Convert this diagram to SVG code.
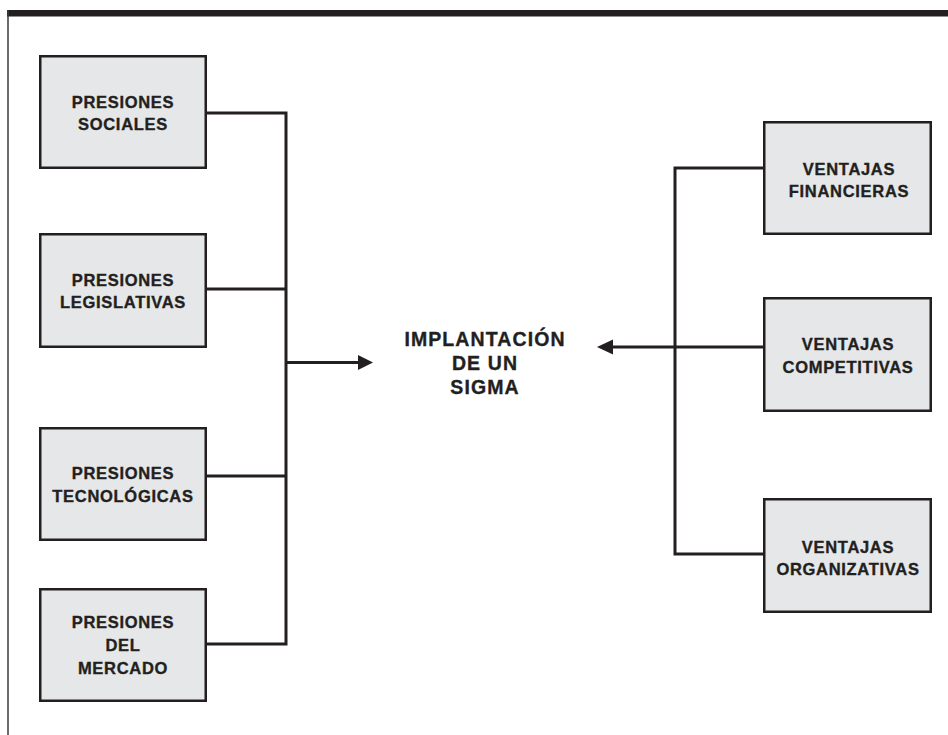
<svg xmlns="http://www.w3.org/2000/svg" width="948" height="735" viewBox="0 0 948 735">
<style>
.box{fill:#e6e7e8;stroke:#231f20;stroke-width:2.5}
.t{font-family:"Liberation Sans",Arial,sans-serif;font-weight:bold;font-size:16.5px;letter-spacing:0.7px;fill:#231f20;stroke:#231f20;stroke-width:0.35;text-anchor:middle}
.c{font-size:19.5px;letter-spacing:1.1px}
.ln{fill:none;stroke:#231f20;stroke-width:3;stroke-linejoin:miter;stroke-linecap:butt}
.ah{fill:#231f20}
</style>
<rect width="948" height="735" fill="#ffffff"/>
<g id="frame">
<rect x="7" y="10" width="941" height="6.5" fill="#231f20"/>
<line x1="8" y1="10" x2="8" y2="735" stroke="#3a3a3a" stroke-width="1.5"/>
</g>
<g id="connectors">
<path class="ln" d="M207 113 H286 V644 H207"/>
<path class="ln" d="M207 289 H286"/>
<path class="ln" d="M207 476 H286"/>
<path class="ln" d="M286 362.5 H359"/>
<polygon class="ah" points="358,355 373,362.5 358,370"/>
<path class="ln" d="M763 168 H675 V554 H763"/>
<path class="ln" d="M763 347 H675"/>
<path class="ln" d="M675 347 H612"/>
<polygon class="ah" points="613,339.5 597,347 613,354.5"/>
</g>
<g id="presiones-sociales">
<rect class="box" x="40.25" y="56.25" width="165.5" height="111.5"/>
<text class="t" x="123" y="108">PRESIONES</text>
<text class="t" x="123" y="130">SOCIALES</text>
</g>
<g id="presiones-legislativas">
<rect class="box" x="40.25" y="234.25" width="165.5" height="112.5"/>
<text class="t" x="123" y="286">PRESIONES</text>
<text class="t" x="123" y="308">LEGISLATIVAS</text>
</g>
<g id="presiones-tecnologicas">
<rect class="box" x="40.25" y="428.25" width="165.5" height="111.5"/>
<text class="t" x="123" y="479">PRESIONES</text>
<text class="t" x="123" y="502">TECNOLÓGICAS</text>
</g>
<g id="presiones-mercado">
<rect class="box" x="40.25" y="589.25" width="165.5" height="111.5"/>
<text class="t" x="123" y="628">PRESIONES</text>
<text class="t" x="123" y="651">DEL</text>
<text class="t" x="123" y="674">MERCADO</text>
</g>
<g id="implantacion">
<text class="t c" x="485" y="346">IMPLANTACIÓN</text>
<text class="t c" x="485" y="370">DE UN</text>
<text class="t c" x="485" y="394">SIGMA</text>
</g>
<g id="ventajas-financieras">
<rect class="box" x="764.25" y="122.25" width="166.5" height="111.5"/>
<text class="t" x="849" y="175">VENTAJAS</text>
<text class="t" x="849" y="197">FINANCIERAS</text>
</g>
<g id="ventajas-competitivas">
<rect class="box" x="764.25" y="298.25" width="166.5" height="112.5"/>
<text class="t" x="848" y="350">VENTAJAS</text>
<text class="t" x="848" y="373">COMPETITIVAS</text>
</g>
<g id="ventajas-organizativas">
<rect class="box" x="764.25" y="499.25" width="166.5" height="112.5"/>
<text class="t" x="848" y="553">VENTAJAS</text>
<text class="t" x="848" y="575">ORGANIZATIVAS</text>
</g>
</svg>
